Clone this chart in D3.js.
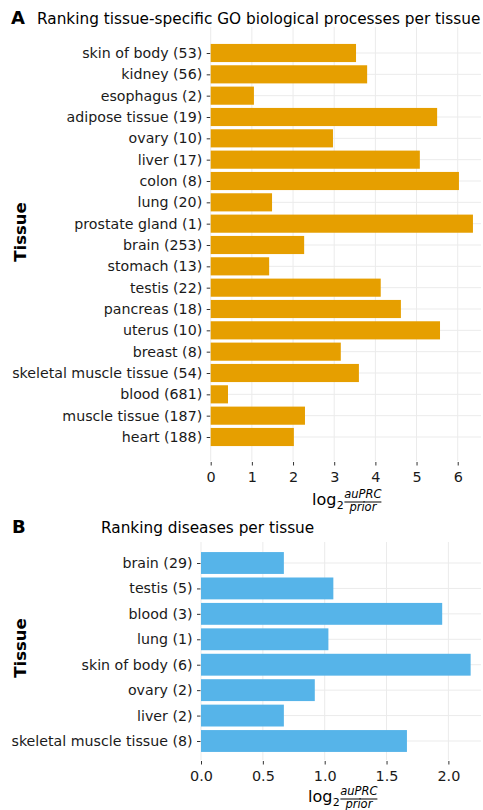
<!DOCTYPE html>
<html>
<head>
<meta charset="utf-8">
<script src="https://cdn.jsdelivr.net/npm/d3@7"></script>
<style>
  html, body { margin: 0; padding: 0; background: #fff; }
  svg { display: block; font-family: "DejaVu Sans", sans-serif; }
</style>
</head>
<body>
<svg id="chart" width="483" height="810"></svg>
<script>
// Panel A: tissue-specific GO biological processes (top to bottom)
const goTissues = [
  "skin of body (53)", "kidney (56)", "esophagus (2)", "adipose tissue (19)",
  "ovary (10)", "liver (17)", "colon (8)", "lung (20)", "prostate gland (1)",
  "brain (253)", "stomach (13)", "testis (22)", "pancreas (18)", "uterus (10)",
  "breast (8)", "skeletal muscle tissue (54)", "blood (681)", "muscle tissue (187)",
  "heart (188)"
];
const goValues = [
  3.53, 3.80, 1.05, 5.50, 2.97, 5.08, 6.03, 1.49, 6.37,
  2.27, 1.42, 4.13, 4.62, 5.57, 3.16, 3.60, 0.42, 2.29, 2.02
];
const goTicks = [0, 1, 2, 3, 4, 5, 6];

// Panel B: diseases per tissue (top to bottom)
const diseaseTissues = [
  "brain (29)", "testis (5)", "blood (3)", "lung (1)", "skin of body (6)",
  "ovary (2)", "liver (2)", "skeletal muscle tissue (8)"
];
const diseaseValues = [0.67, 1.07, 1.95, 1.03, 2.18, 0.92, 0.67, 1.665];
const diseaseTicks = [0, 0.5, 1.0, 1.5, 2.0];

const svg = d3.select("#chart");

function drawPanel(cfg) {
  const g = svg.append("g");
  const x = d3.scaleLinear().domain(cfg.xDomain).range([cfg.left, cfg.xEnd]);
  const y = d3.scalePoint().domain(cfg.cats).range([cfg.yFirst, cfg.yLast]);
  const step = y.step();
  const barH = step * cfg.barFrac;

  // grid
  g.append("g").selectAll("line.v").data(cfg.ticks).join("line")
    .attr("x1", d => x(d)).attr("x2", d => x(d))
    .attr("y1", cfg.top).attr("y2", cfg.bottom)
    .attr("stroke", "#ebebeb").attr("stroke-width", 1);
  g.append("g").selectAll("line.h").data(cfg.cats).join("line")
    .attr("x1", cfg.left).attr("x2", cfg.right)
    .attr("y1", d => y(d)).attr("y2", d => y(d))
    .attr("stroke", "#ebebeb").attr("stroke-width", 1);

  // bars
  g.append("g").selectAll("rect").data(cfg.cats).join("rect")
    .attr("x", x(0))
    .attr("y", d => y(d) - barH / 2)
    .attr("width", (d, i) => x(cfg.values[i]) - x(0))
    .attr("height", barH)
    .attr("fill", cfg.color);

  // y axis (labels + tick marks)
  const yAxis = d3.axisLeft(y).tickSize(3.5).tickPadding(4.5);
  const ya = g.append("g").attr("transform", `translate(${cfg.left - 0.5},0)`).call(yAxis);
  ya.select(".domain").remove();
  ya.selectAll(".tick line").attr("stroke", "#333");
  ya.selectAll(".tick text").attr("fill", "#1a1a1a")
    .style("font-size", "14.2px").style("font-family", "DejaVu Sans, sans-serif");

  // x axis
  const xAxis = d3.axisBottom(x).tickValues(cfg.ticks).tickFormat(cfg.fmt)
    .tickSize(3.5).tickPadding(6);
  const xa = g.append("g").attr("transform", `translate(0,${cfg.bottom + 1})`).call(xAxis);
  xa.select(".domain").remove();
  xa.selectAll(".tick line").attr("stroke", "#333");
  xa.selectAll(".tick text").attr("fill", "#1a1a1a")
    .style("font-size", "14.4px").style("font-family", "DejaVu Sans, sans-serif");

  // y axis title
  g.append("text")
    .attr("transform", `translate(${cfg.yTitleX},${cfg.yTitleY}) rotate(-90)`)
    .attr("text-anchor", "middle")
    .attr("font-weight", "bold").attr("font-size", 16.5).attr("fill", "#000")
    .text("Tissue");

  // x axis title: log2 (auPRC / prior)
  const t = g.append("g").attr("transform", `translate(${cfg.xTitleX},${cfg.xTitleY})`);
  const logT = t.append("text").attr("x", 0).attr("y", 0)
    .attr("font-size", 16).attr("fill", "#000").text("log");
  const logW = logT.node().getComputedTextLength();
  const subT = t.append("text").attr("x", logW + 0.3).attr("y", 4)
    .attr("font-size", 11).attr("fill", "#000").text("2");
  const subW = subT.node().getComputedTextLength();
  const fx = logW + subW + 1, fw = 37;
  t.append("text").attr("x", fx + fw / 2).attr("y", -7).attr("text-anchor", "middle")
    .attr("font-size", 11.5).attr("font-style", "italic").attr("fill", "#000").text("auPRC");
  t.append("line").attr("x1", fx).attr("x2", fx + fw).attr("y1", -3).attr("y2", -3)
    .attr("stroke", "#000").attr("stroke-width", 1);
  t.append("text").attr("x", fx + fw / 2).attr("y", 5.5).attr("text-anchor", "middle")
    .attr("font-size", 11.5).attr("font-style", "italic").attr("fill", "#000").text("prior");

  // panel tag and title
  svg.append("text").attr("x", cfg.tagX).attr("y", cfg.titleY)
    .attr("font-weight", "bold").attr("font-size", 18).attr("fill", "#000").text(cfg.tag);
  svg.append("text").attr("x", cfg.titleX).attr("y", cfg.titleY)
    .attr("font-size", 15.3).attr("fill", "#000").text(cfg.title);
}

drawPanel({
  cats: goTissues, values: goValues, ticks: goTicks, fmt: d3.format("d"),
  color: "#E69F00",
  xDomain: [0, 6.5], left: 210.7, xEnd: 478.3, right: 481,
  top: 27, bottom: 461, yFirst: 53, yLast: 437, barFrac: 0.85,
  yTitleX: 26, yTitleY: 232, xTitleX: 312, xTitleY: 505,
  tag: "A", tagX: 11, titleX: 37, titleY: 24,
  title: "Ranking tissue-specific GO biological processes per tissue"
});

drawPanel({
  cats: diseaseTissues, values: diseaseValues, ticks: diseaseTicks, fmt: d3.format(".1f"),
  color: "#56B4E9",
  xDomain: [0, 2.25], left: 201, xEnd: 479.3, right: 481,
  top: 542, bottom: 760, yFirst: 563, yLast: 741, barFrac: 0.86,
  yTitleX: 26, yTitleY: 648, xTitleX: 308, xTitleY: 802,
  tag: "B", tagX: 12, titleX: 101, titleY: 533,
  title: "Ranking diseases per tissue"
});
</script>
</body>
</html>
